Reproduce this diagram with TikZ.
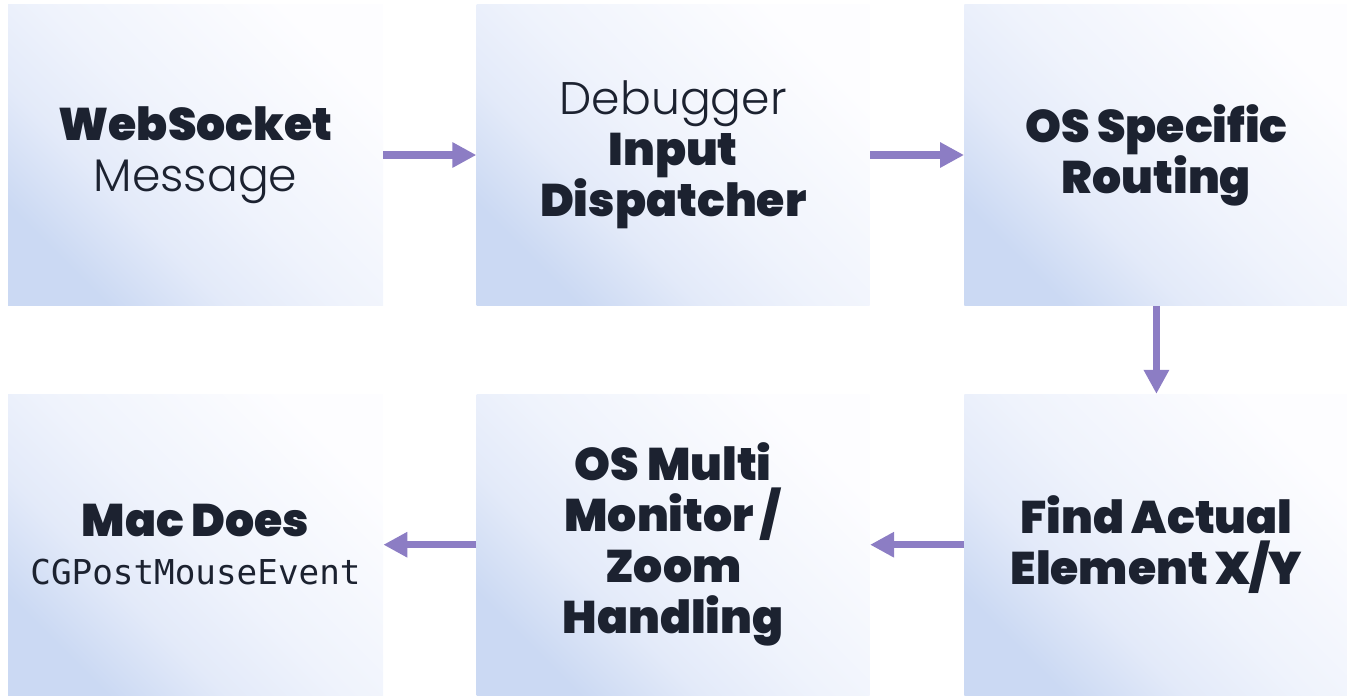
\documentclass[tikz,border=0pt]{standalone}
\usepackage{fontspec}
\setmainfont{Poppins}[UprightFont=* Light, BoldFont=* Black]
\setmonofont{DejaVu Sans Mono}
\usetikzlibrary{positioning, arrows.meta}
\definecolor{boxblue}{RGB}{203,217,243}
\definecolor{boxmid}{RGB}{227,234,249}
\definecolor{boxlight}{RGB}{239,243,252}
\definecolor{boxwhite}{RGB}{253,253,255}
\definecolor{ink}{RGB}{28,34,48}
\definecolor{flow}{RGB}{140,125,196}
\pgfdeclarehorizontalshading{diagfade}{100bp}{color(0bp)=(boxblue); color(25bp)=(boxblue);
  color(37.5bp)=(boxmid); color(50bp)=(boxlight); color(75bp)=(boxwhite); color(100bp)=(boxwhite)}

\begin{document}
\begin{tikzpicture}[
     node distance = 1.76cm and 1.86cm,
        box/.style = {rectangle, shade, shading=diagfade, shading angle=45,
                      minimum height=6.02cm, inner sep=0pt,
                      align=center, text=ink,
                      font=\fontsize{26}{29}\selectfont},
        arr/.style = {-{Triangle[length=0.48cm, width=0.48cm]}, line width=0.15cm, flow}
                        ]
\useasboundingbox (0,0) rectangle (26.94,-13.9);
\node (ws)   [box, minimum width=7.5cm] at (3.91,-3.1) {\textbf{WebSocket}\\Message};
\node (disp) [box, minimum width=7.86cm, right=of ws] {Debugger\\\textbf{Input}\\\textbf{Dispatcher}};
\node (route)[box, minimum width=7.68cm, right=1.88cm of disp] {\textbf{OS Specific}\\\textbf{Routing}};
\node (find) [box, minimum width=7.68cm, below=of route] {\textbf{Find Actual}\\\textbf{Element X/Y}};
\node (zoom) [box, minimum width=7.86cm, left=1.88cm of find] {\textbf{OS Multi}\\\textbf{Monitor /}\\\textbf{Zoom}\\\textbf{Handling}};
\node (mac)  [box, minimum width=7.5cm, left=of zoom] {\textbf{Mac Does}\\[-2pt]{\ttfamily\fontsize{19.5}{29}\selectfont CGPostMouseEvent}};
\draw[arr] (ws) to (disp);
\draw[arr] (disp) to (route);
\draw[arr] (route) to (find);
\draw[arr] (find) to (zoom);
\draw[arr] (zoom) to (mac);
\end{tikzpicture}
\end{document}
